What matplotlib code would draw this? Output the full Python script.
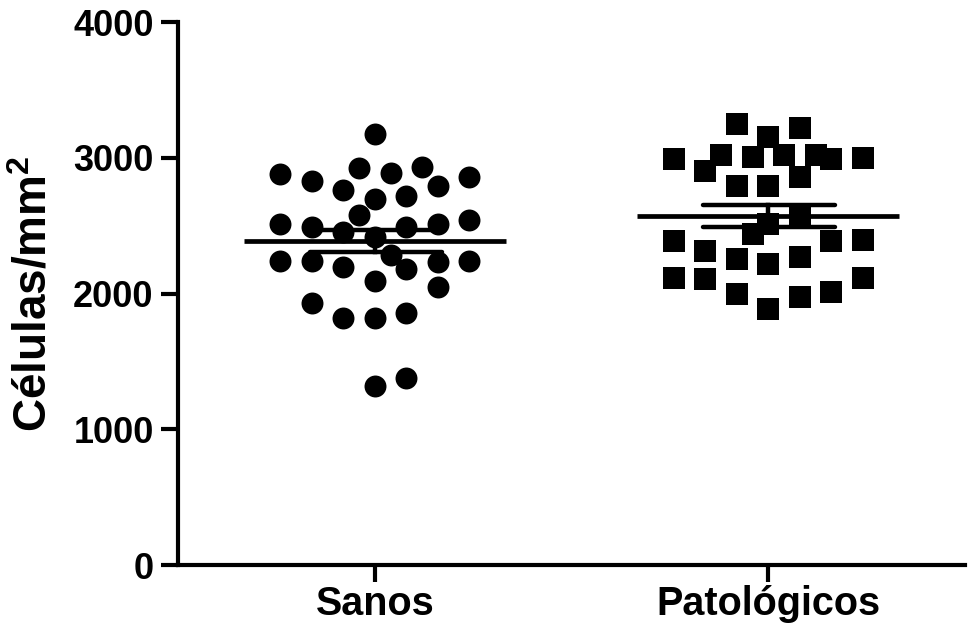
import matplotlib
matplotlib.use('Agg')
import matplotlib.pyplot as plt
import numpy as np

plt.rcParams['font.family'] = ['Liberation Sans', 'DejaVu Sans']
plt.rcParams['font.weight'] = 'bold'
plt.rcParams['mathtext.fontset'] = 'custom'
plt.rcParams['mathtext.rm'] = 'Liberation Sans:bold'
plt.rcParams['mathtext.bf'] = 'Liberation Sans:bold'

# data (cells/mm2)
groups = ['Sanos', 'Patológicos']
sanos = [3178, 2882, 2826, 2927, 2888, 2932, 2858, 2764, 2789, 2693, 2715, 2582,
         2513, 2493, 2451, 2415, 2488, 2513, 2543, 2242, 2242, 2192, 2286, 2184,
         2235, 2242, 2094, 2045, 1929, 1823, 1818, 1855, 1318, 1375]
patol = [3252, 3220, 3153, 2993, 3023, 3006, 3018, 3018, 2988, 3001, 2900, 2791,
         2789, 2858, 2439, 2513, 2574, 2389, 2316, 2254, 2217, 2267, 2389, 2397,
         2118, 2106, 1996, 1885, 1976, 2013, 2111]
means = [2388, 2572]
sems = [82, 80]
yticks = [0, 1000, 2000, 3000, 4000]

# column slot of each point in the scatter (layout only)
sanos_slot = [0, -3, -2, -0.5, 0.5, 1.5, 3, -1, 2, 0, 1, -0.5,
              -3, -2, -1, 0, 1, 2, 3, -3, -2, -1, 0.5, 1,
              2, 3, 0, 2, -2, -1, 0, 1, 0, 1]
patol_slot = [-1, 1, 0, -3, -1.5, -0.5, 0.5, 1.5, 2, 3, -2, -1,
              0, 1, -0.5, 0, 1, -3, -2, -1, 0, 1, 2, 3,
              -3, -2, -1, 0, 1, 2, 3]
step = 0.08

fig = plt.figure(figsize=(9.7, 6.29), dpi=100)
ax = fig.add_axes([0.1835, 0.1017, 0.8115, 0.8633])

ax.plot(0 + np.array(sanos_slot) * step, sanos, 'o', color='black', ms=15.8, mew=0)
ax.plot(1 + np.array(patol_slot) * step, patol, 's', color='black', ms=15.6, mew=0)

for i in range(2):
    ax.plot([i - 0.333, i + 0.333], [means[i], means[i]], color='black', lw=3.4,
            solid_capstyle='butt')
    ax.plot([i - 0.165, i + 0.17], [means[i] + sems[i]] * 2, color='black', lw=3.2,
            solid_capstyle='round')
    ax.plot([i - 0.165, i + 0.17], [means[i] - sems[i]] * 2, color='black', lw=3.2,
            solid_capstyle='round')
    ax.plot([i, i], [means[i] - sems[i], means[i] + sems[i]], color='black', lw=3.2)

ax.set_xlim(-0.5, 1.5)
ax.set_ylim(0, 4000)
ax.set_xticks([0, 1])
ax.set_xticklabels(groups, fontsize=28.5, fontweight='bold')
ax.set_yticks(yticks)
ax.set_yticklabels([str(t) for t in yticks], fontsize=26, fontweight='bold')
ax.set_ylabel(r'Células/mm$^{2}$', fontsize=33, fontweight='bold', labelpad=12)

for s in ['top', 'right']:
    ax.spines[s].set_visible(False)
for s in ['left', 'bottom']:
    ax.spines[s].set_linewidth(3)
ax.tick_params(width=3, length=12.5)
ax.tick_params(axis='y', pad=5)
ax.tick_params(axis='x', pad=2)

fig.savefig('out.png', dpi=100)
